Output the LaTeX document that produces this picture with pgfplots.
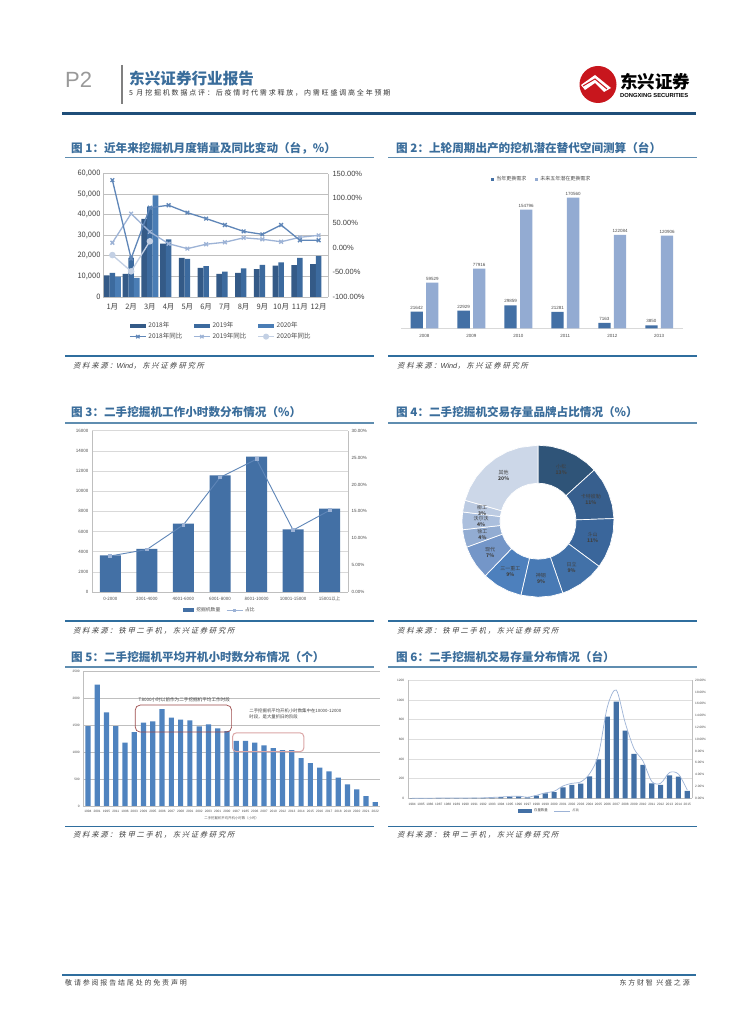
\documentclass[border=0pt]{standalone}
\usepackage{fontspec}
\usepackage{pgfplots}
\pgfplotsset{compat=1.18}
\usepgfplotslibrary{polar}
\setmainfont{Liberation Sans}
\newfontfamily\cjk{Noto Sans CJK SC}
\newfontfamily\cjkw[LetterSpace=26]{Noto Sans CJK SC}
\newfontfamily\cjkslant[FakeSlant=0.25,LetterSpace=24]{Noto Sans CJK SC}
\definecolor{hblue}{HTML}{1F4E79}
\definecolor{tblue}{HTML}{3A6D9B}
\definecolor{rblue}{HTML}{5F8DB0}
\definecolor{srule}{HTML}{2F6E9E}
\definecolor{barA}{HTML}{345A87}
\definecolor{barB}{HTML}{3C6A9E}
\definecolor{barC}{HTML}{4A7DB5}
\definecolor{lineA}{HTML}{5F86B8}
\definecolor{lineB}{HTML}{9DB3D6}
\definecolor{lineC}{HTML}{C3D0E4}
\definecolor{barD}{HTML}{4370A5}
\definecolor{barE}{HTML}{93ABD2}
\definecolor{barF}{HTML}{4F83BF}
\definecolor{gridg}{HTML}{BFBFBF}
\definecolor{lred}{HTML}{C8161D}

% tables
\pgfplotstableread{
x a b c
0 10500 11700 9900
1 11200 19000 9300
2 38000 44000 49400
3 26000 28000 nan
4 19000 18600 nan
5 14200 15000 nan
6 11200 12300 nan
7 11700 13900 nan
8 13500 15600 nan
9 15300 16800 nan
10 15500 19000 nan
11 16000 20000 nan
}\salesdata
\pgfplotstableread{
x y18 y19 y20
0 137 10 -15
1 -22 69 -48
2 81 32 13
3 86 8 nan
4 71 -2 nan
5 59 7 nan
6 46 11 nan
7 33 20 nan
8 27 17 nan
9 46 12 nan
10 15 21 nan
11 15 25 nan
}\yoydata
\pgfplotstableread{
x h p
0 3636 6.7
1 4265 7.9
2 6777 12.5
3 11570 21.3
4 13420 24.7
5 6215 11.5
6 8265 15.2
}\hourdata
\pgfplotstableread{
x v
0 1489
1 2258
2 1743
3 1489
4 1179
5 1377
6 1551
7 1576
8 1805
9 1644
10 1607
11 1594
12 1483
13 1520
14 1445
15 1396
16 1210
17 1210
18 1179
19 1129
20 1079
21 1042
22 1042
23 893
24 800
25 713
26 645
27 527
28 403
29 310
30 186
31 74
}\avgdata
\pgfplotstableread{
x v p
0 1 0.02
1 1 0.02
2 1 0.02
3 2 0.04
4 2 0.04
5 3 0.06
6 3 0.06
7 4 0.07
8 4 0.07
9 8 0.15
10 12 0.22
11 17 0.32
12 20 0.37
13 10 0.19
14 27 0.50
15 50 0.93
16 64 1.19
17 112 2.09
18 136 2.54
19 149 2.78
20 224 4.18
21 397 7.41
22 831 15.51
23 983 18.35
24 688 12.84
25 451 8.42
26 339 6.33
27 153 2.86
28 136 2.54
29 234 4.37
30 220 4.11
31 75 1.40
}\stockdata

\newcommand{\Y}[1]{\fpeval{1024-#1}}
\newcommand{\fig}[3]{\node[anchor=west,text=tblue,inner sep=0pt,font=\cjk\fontsize{11.6}{12}\selectfont\bfseries] at (#1pt,\Y{#2}pt) {#3};}
\newcommand{\src}[3]{\node[anchor=west,inner sep=0pt,text=black!75,font=\cjkslant\fontsize{7.3}{8}\selectfont] at (#1pt,\Y{#2}pt) {#3};}
\newcommand{\wind}{{\rmfamily\itshape Wind}}
\newcommand{\thinrule}[3]{\draw[rblue,line width=1.8pt] (#1pt,\Y{#3}pt) -- (#2pt,\Y{#3}pt);}
\newcommand{\srcrule}[3]{\draw[srule,line width=1.2pt] (#1pt,\Y{#3}pt) -- (#2pt,\Y{#3}pt);}

\pgfplotsset{
  keyw/.initial=16pt,
  panel/.style={scale only axis,anchor=south west,axis line style={gridg},
    tick style={draw=none},scaled y ticks=false,
    /pgf/number format/assume math mode=true,
    /pgf/number format/1000 sep={}},
  barleg/.style={legend image code/.code={\fill[##1] (0pt,-2pt) rectangle (\pgfkeysvalueof{/pgfplots/keyw},2pt);}},
  lineleg/.style={legend image code/.code={\draw[mark repeat=2,mark phase=2,##1,sharp plot] plot coordinates {(0pt,0pt)(8pt,0pt)(16pt,0pt)};}},
}

\begin{document}
\begin{tikzpicture}[x=1pt,y=1pt]
\useasboundingbox (0,0) rectangle (755,1024);
\fill[white] (0,0) rectangle (755,1024);

% header
\node[anchor=west,inner sep=0pt,text=black!40,font=\fontsize{22}{24}\selectfont] at (65pt,\Y{80}pt) {P2};
\draw[black!50,line width=1.4pt] (122pt,\Y{65}pt) -- (122pt,\Y{104}pt);
\node[anchor=west,inner sep=0pt,text=tblue,font=\cjk\fontsize{15.6}{17}\selectfont\bfseries] at (129pt,\Y{79}pt) {东兴证券行业报告};
\node[anchor=west,inner sep=0pt,text=black!80,font=\cjkw\fontsize{7}{8}\selectfont] at (129pt,\Y{92.5}pt) {5 月挖掘机数据点评：后疫情时代需求释放，内需旺盛调高全年预期};
\draw[hblue,line width=3pt] (62pt,\Y{113.5}pt) -- (696pt,\Y{113.5}pt);
% logo
\fill[lred] (598pt,\Y{84.5}pt) circle (18.5pt);
\fill[white] (581pt,\Y{85}pt) -- (595pt,\Y{75}pt) -- (611pt,\Y{88}pt) -- (604pt,\Y{92}pt) -- (595pt,\Y{83}pt) -- (585pt,\Y{90}pt) -- cycle;
\draw[lred,line width=1pt] (583pt,\Y{86}pt) -- (595pt,\Y{79}pt) -- (607pt,\Y{89}pt);
\node[anchor=west,inner sep=0pt,font=\cjk\fontsize{17.5}{20}\selectfont\bfseries] at (620pt,\Y{82}pt) {东兴证券};
\node[anchor=west,inner sep=0pt,font=\fontsize{5.8}{6}\selectfont\bfseries] at (620pt,\Y{95.5}pt) {DONGXING SECURITIES};

% section furniture
\fig{71}{148}{图 1：近年来挖掘机月度销量及同比变动（台，\%）}
\fig{396}{148}{图 2：上轮周期出产的挖机潜在替代空间测算（台）}
\fig{71}{412}{图 3：二手挖掘机工作小时数分布情况（\%）}
\fig{396}{412}{图 4：二手挖掘机交易存量品牌占比情况（\%）}
\fig{71}{657}{图 5：二手挖掘机平均开机小时数分布情况（个）}
\fig{396}{657}{图 6：二手挖掘机交易存量分布情况（台）}
\thinrule{65}{374}{157.5}\thinrule{388}{697}{157.5}
\thinrule{65}{374}{423}\thinrule{388}{697}{423}
\thinrule{65}{374}{667}\thinrule{388}{697}{667}
\srcrule{65}{374}{356}\srcrule{388}{697}{356}
\srcrule{65}{374}{621}\srcrule{388}{697}{621}
\srcrule{65}{374}{826.5}\srcrule{388}{697}{826.5}
\src{73}{366}{资料来源：\wind，东兴证券研究所}
\src{397}{366}{资料来源：\wind，东兴证券研究所}
\src{73}{631}{资料来源：铁甲二手机，东兴证券研究所}
\src{397}{631}{资料来源：铁甲二手机，东兴证券研究所}
\src{73}{835}{资料来源：铁甲二手机，东兴证券研究所}
\src{397}{835}{资料来源：铁甲二手机，东兴证券研究所}

% footer
\draw[srule,line width=1.4pt] (62pt,\Y{975}pt) -- (696pt,\Y{975}pt);
\node[anchor=west,inner sep=0pt,text=black!75,font=\cjkw\fontsize{7}{8}\selectfont] at (65pt,\Y{983}pt) {敬请参阅报告结尾处的免责声明};
\node[anchor=east,inner sep=0pt,text=black!75,font=\cjkw\fontsize{7}{8}\selectfont] at (690pt,\Y{983}pt) {东方财智 兴盛之源};

% fig 1
\begin{axis}[panel,at={(103pt,\Y{297}pt)},width=225pt,height=123.3pt,
  xmin=-0.5,xmax=11.5,ymin=0,ymax=60000,
  ybar=0pt,bar width=5.6pt,
  xtick={0,...,11},xticklabels={1月,2月,3月,4月,5月,6月,7月,8月,9月,10月,11月,12月},
  ytick={0,10000,...,60000},yticklabels={0,{10,000},{20,000},{30,000},{40,000},{50,000},{60,000}},
  ymajorgrids,major grid style={gridg,line width=0.9pt},
  axis y line*=left,axis x line*=bottom,
  ticklabel style={font=\cjk\fontsize{7.5}{8}\selectfont,text=black!75},
  xticklabel style={yshift=1.5pt},
  yticklabel style={xshift=1pt},
  keyw=16pt,
  legend style={at={(0.524,-0.17)},anchor=north,draw=none,fill=none,
    font=\cjk\fontsize{6.5}{7}\selectfont,text=black!70,
    /tikz/every even column/.append style={column sep=9pt}},
  legend columns=3,legend cell align=left,
]
\addplot[fill=barA,draw=none,barleg] table[x=x,y=a]{\salesdata};
\addlegendentry{2018年}
\addplot[fill=barB,draw=none,barleg] table[x=x,y=b]{\salesdata};
\addlegendentry{2019年}
\addplot[fill=barC,draw=none,barleg] table[x=x,y=c]{\salesdata};
\addlegendentry{2020年}
\addlegendimage{lineleg,lineA,line width=1.2pt,mark=x,mark size=2.4pt}
\addlegendentry{2018年同比}
\addlegendimage{lineleg,lineB,line width=1.2pt,mark=x,mark size=2.4pt}
\addlegendentry{2019年同比}
\addlegendimage{lineleg,lineC,line width=1.2pt,mark=*,mark size=2.4pt}
\addlegendentry{2020年同比}
\end{axis}
\begin{axis}[panel,at={(103pt,\Y{297}pt)},width=225pt,height=123.3pt,
  xmin=-0.5,xmax=11.5,ymin=-100,ymax=150,
  axis x line=none,axis y line*=right,
  ytick={-100,-50,...,150},
  yticklabel={\pgfmathprintnumber[fixed,fixed zerofill,precision=2]{\tick}\%},
  ticklabel style={font=\fontsize{7.5}{8}\selectfont,text=black!75},
  yticklabel style={xshift=1pt},
]
\addplot[lineC,line width=1.3pt,mark=*,mark size=2.6pt] table[x=x,y=y20]{\yoydata};
\addplot[lineB,line width=1.3pt,mark=x,mark size=2.6pt] table[x=x,y=y19]{\yoydata};
\addplot[lineA,line width=1.3pt,mark=x,mark size=2.6pt] table[x=x,y=y18]{\yoydata};
\end{axis}

% fig 2
\begin{axis}[panel,at={(401pt,\Y{328.3}pt)},width=281.7pt,height=141.7pt,
  xmin=-0.5,xmax=5.5,ymin=0,ymax=185000,
  ybar=3.3pt,bar width=12.3pt,
  axis y line=none,axis x line*=bottom,x axis line style={black!15},
  xtick={0,...,5},xticklabels={2008,2009,2010,2011,2012,2013},
  ticklabel style={font=\fontsize{4.5}{5}\selectfont,text=black!70},
  xticklabel style={yshift=2pt},
  nodes near coords,
  every node near coord/.append style={font=\fontsize{4.5}{5}\selectfont,text=black!70,yshift=-1pt},
  nodes near coords style={/pgf/number format/.cd,fixed,precision=0,1000 sep={}},
  legend style={at={(0.5,1.053)},anchor=center,draw=none,fill=none,
    font=\cjk\fontsize{5}{6}\selectfont,text=black!70,
    /tikz/every even column/.append style={column sep=7pt}},
  legend columns=2,
  legend image code/.code={\fill[#1] (0pt,-1.5pt) rectangle (3pt,1.5pt);},
]
\addplot[fill=barD,draw=none] coordinates {(0,21642) (1,22929) (2,29859) (3,21281) (4,7163) (5,3850)};
\addlegendentry{当年更换需求}
\addplot[fill=barE,draw=none] coordinates {(0,59529) (1,77916) (2,154796) (3,170560) (4,122084) (5,120906)};
\addlegendentry{未来五年潜在更换需求}
\end{axis}

% fig 3
\begin{axis}[panel,at={(92pt,\Y{592}pt)},width=256pt,height=161.3pt,
  xmin=-0.5,xmax=6.5,ymin=0,ymax=16000,
  ybar,bar width=21pt,
  ymajorgrids,major grid style={black!15,line width=0.6pt},
  axis y line*=left,axis x line*=bottom,
  ytick={0,2000,...,16000},
  xtick={0,...,6},xticklabels={0-2000,2001-4000,4001-6000,6001-8000,8001-10000,10001-15000,15001以上},
  ticklabel style={font=\cjk\fontsize{4.5}{5}\selectfont,text=black!70},
  xticklabel style={yshift=3pt},
  keyw=11pt,
  legend style={at={(0.5,-0.07)},anchor=north,draw=none,fill=none,
    font=\cjk\fontsize{4.8}{6}\selectfont,text=black!70,
    /tikz/every even column/.append style={column sep=4pt}},
  legend columns=2,
]
\addplot[fill=barD,draw=none,barleg] table[x=x,y=h]{\hourdata};
\addlegendentry{挖掘机数量}
\addlegendimage{lineleg,lineB,line width=0.8pt,mark=square*,mark size=1pt}
\addlegendentry{占比}
\end{axis}
\begin{axis}[panel,at={(92pt,\Y{592}pt)},width=256pt,height=161.3pt,
  xmin=-0.5,xmax=6.5,ymin=0,ymax=30,
  axis x line=none,axis y line*=right,
  ytick={0,5,...,30},
  yticklabel={\pgfmathprintnumber[fixed,fixed zerofill,precision=2]{\tick}\%},
  ticklabel style={font=\fontsize{4.5}{5}\selectfont,text=black!70},
]
\addplot[lineA,line width=0.9pt,mark=square*,mark size=1.4pt,mark options={fill=lineB,draw=lineB}] table[x=x,y=p]{\hourdata};
\end{axis}

% fig 4: angles typed from the shares, clockwise from the top
\begin{polaraxis}[at={(462pt,\Y{597.2}pt)},anchor=south west,scale only axis,
  width=152pt,height=152pt,hide axis,clip=false,xmin=0,xmax=360,ymin=0,ymax=1]
\pgfplotsset{every axis plot/.append style={draw=white,line width=0.7pt}}
\addplot[fill={rgb,255:red,47;green,84;blue,120}] coordinates {(90,1)(80,1)(70,1)(60,1)(50,1)(42.3,1)(42.3,.5)(50,.5)(60,.5)(70,.5)(80,.5)(90,.5)} --cycle;
\addplot[fill={rgb,255:red,55;green,95;blue,142}] coordinates {(42.3,1)(32,1)(22,1)(12,1)(2,1)(2,.5)(12,.5)(22,.5)(32,.5)(42.3,.5)} --cycle;
\addplot[fill={rgb,255:red,58;green,102;blue,155}] coordinates {(2,1)(352,1)(342,1)(332,1)(323.5,1)(323.5,.5)(332,.5)(342,.5)(352,.5)(2,.5)} --cycle;
\addplot[fill={rgb,255:red,66;green,113;blue,168}] coordinates {(323.5,1)(314,1)(304,1)(294,1)(289,1)(289,.5)(294,.5)(304,.5)(314,.5)(323.5,.5)} --cycle;
\addplot[fill={rgb,255:red,72;green,122;blue,181}] coordinates {(289,1)(280,1)(270,1)(257,1)(257,.5)(270,.5)(280,.5)(289,.5)} --cycle;
\addplot[fill={rgb,255:red,77;green,128;blue,189}] coordinates {(257,1)(247,1)(237,1)(226,1)(226,.5)(237,.5)(247,.5)(257,.5)} --cycle;
\addplot[fill={rgb,255:red,116;green,150;blue,200}] coordinates {(226,1)(216,1)(208,1)(200,1)(200,.5)(208,.5)(216,.5)(226,.5)} --cycle;
\addplot[fill={rgb,255:red,146;green,172;blue,210}] coordinates {(200,1)(193,1)(186.5,1)(186.5,.5)(193,.5)(200,.5)} --cycle;
\addplot[fill={rgb,255:red,171;green,191;blue,221}] coordinates {(186.5,1)(180,1)(173,1)(173,.5)(180,.5)(186.5,.5)} --cycle;
\addplot[fill={rgb,255:red,188;green,203;blue,226}] coordinates {(173,1)(164,1)(164,.5)(173,.5)} --cycle;
\addplot[fill={rgb,255:red,204;green,215;blue,232}] coordinates {(164,1)(154,1)(144,1)(134,1)(124,1)(114,1)(104,1)(90,1)(90,.5)(104,.5)(114,.5)(124,.5)(134,.5)(144,.5)(154,.5)(164,.5)} --cycle;
\foreach \a/\r/\n/\p in {66/.75/小松/13\%,22/.75/卡特彼勒/11\%,343/.75/斗山/11\%,306/.75/日立/9\%,273/.75/神钢/9\%,241/.75/三一重工/9\%,213/.75/现代/7\%,193/.75/徐工/4\%,180/.75/沃尔沃/4\%,169/.75/柳工/3\%,127/.75/其他/20\%}{
  \edef\tmp{\noexpand\node[align=center,inner sep=0pt,font=\noexpand\cjk\noexpand\fontsize{5}{6}\noexpand\selectfont,text=black!75] at (axis cs:\a,\r) {\n\noexpand\\\noexpand\textbf{\p}};}\tmp
}
\end{polaraxis}

% fig 5
\begin{axis}[panel,at={(83.3pt,\Y{806}pt)},width=296.6pt,height=134.3pt,
  xmin=-0.5,xmax=31.5,ymin=0,ymax=2500,
  ybar,bar width=5.2pt,
  ymajorgrids,major grid style={gridg,line width=0.6pt},
  axis y line*=left,axis x line*=bottom,
  ytick={0,500,...,2500},
  xtick={0,...,31},
  xticklabels={1994,2001,1995,2011,1996,2003,2009,2005,2006,2007,2008,2001,2002,2003,2001,2000,1987,1985,2006,2007,2010,2012,2013,2014,2015,2016,2017,2018,2019,2020,2021,2022},
  ticklabel style={font=\fontsize{3.2}{4}\selectfont,text=black!70},
  xticklabel style={yshift=4pt},
  clip=false,
]
\addplot[fill=barF,draw=none] table[x=x,y=v]{\avgdata};
\node[font=\cjk\fontsize{3.4}{4}\selectfont,text=black!65] at (axis cs:15.5,-218) {二手挖掘机平均开机小时数（小时）};
\node[font=\cjk\fontsize{4.6}{5}\selectfont,text=black!75,inner sep=0pt] at (axis cs:10.4,1972) {T8000小时以前作为二手挖掘机平均工作时段};
\node[anchor=west,inner sep=0pt,align=left,font=\cjk\fontsize{4.4}{6}\selectfont,text=black!75] at (axis cs:17.4,1716) {二手挖掘机平均开机小时数集中在10000-12000\\时段，是大量折旧的阶段};
\draw[color=red!45!black!70,line width=0.7pt,rounded corners=5pt] (axis cs:5.1,1376) rectangle (axis cs:15.5,1879);
\draw[color=red!60!black!35,line width=1pt,rounded corners=4pt] (axis cs:15.6,1010) rectangle (axis cs:23.3,1363);
\end{axis}

% fig 6
\begin{axis}[panel,at={(407.7pt,\Y{798.3}pt)},width=284pt,height=118pt,
  xmin=-0.5,xmax=31.5,ymin=0,ymax=1200,
  ybar,bar width=5.2pt,
  ymajorgrids,major grid style={black!13,line width=0.6pt},
  axis x line*=bottom,axis y line*=left,
  ytick={0,200,...,1200},
  xtick={0,...,31},
  xticklabels={1984,1985,1986,1987,1988,1989,1990,1991,1992,1993,1994,1995,1996,1997,1998,1999,2000,2001,2002,2003,2004,2005,2006,2007,2008,2009,2010,2011,2012,2013,2014,2015},
  ticklabel style={font=\fontsize{3.2}{4}\selectfont,text=black!70},
  xticklabel style={yshift=3pt},
  keyw=14pt,
  legend style={at={(0.5,-0.055)},anchor=north,draw=none,fill=none,
    font=\cjk\fontsize{3.4}{4}\selectfont,text=black!70,
    /tikz/every even column/.append style={column sep=4pt}},
  legend columns=2,
]
\addplot[fill=barD,draw=none,barleg] table[x=x,y=v]{\stockdata};
\addlegendentry{存量数量}
\addlegendimage{lineleg,lineB,line width=0.7pt}
\addlegendentry{占比}
\end{axis}
\begin{axis}[panel,at={(407.7pt,\Y{798.3}pt)},width=284pt,height=118pt,
  xmin=-0.5,xmax=31.5,ymin=0,ymax=20,
  axis x line=none,axis y line*=right,
  ytick={0,2,...,20},
  yticklabel={\pgfmathprintnumber[fixed,fixed zerofill,precision=2]{\tick}\%},
  ticklabel style={font=\fontsize{3.2}{4}\selectfont,text=black!70},
]
\addplot[lineB,line width=0.7pt,smooth] table[x=x,y=p]{\stockdata};
\end{axis}
\end{tikzpicture}
\end{document}
